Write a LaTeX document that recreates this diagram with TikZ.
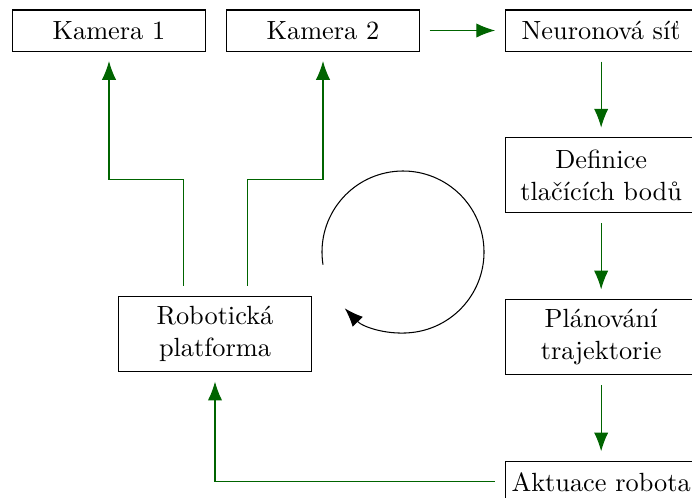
\documentclass[tikz,border=0pt]{standalone}
\usepackage{fontspec}
\usetikzlibrary{arrows.meta,positioning}
\definecolor{flowgreen}{RGB}{0,100,0}
\tikzset{
	box/.style={draw, align=center, minimum height=15.6pt, minimum width=73pt, inner sep=2pt},
	tallbox/.style={box, minimum height=28.6pt},
	flow/.style={-{Latex[length=2.5mm,width=1.9mm]}, flowgreen, shorten <=3.8pt, shorten >=3.6pt},
	cycle/.style={-{Latex[length=2.5mm,width=1.9mm]}, black}
}

\begin{document}
\begin{tikzpicture}[x=0.38pt, y=-0.38pt, node distance=32.5pt]
	\useasboundingbox (0,0) rectangle (692,497);
	\node[box] (cam1) at (109,30.5) {Kamera 1};
	\node[box] (cam2) at (323,30.5) {Kamera 2};
	\node[box, right=32.3pt of cam2] (net) {Neuronová síť};
	\node[tallbox, below=of net] (points) {Definice\\tlačících bodů};
	\node[tallbox, below=of points] (plan) {Plánování\\trajektorie};
	\node[box, below=of plan] (act) {Aktuace robota};
	\node[tallbox] (robot) at (215,334) {Robotická\\platforma};

	\draw[flow] (cam2) -- (net);
	\draw[flow] (net) -- (points);
	\draw[flow] (points) -- (plan);
	\draw[flow] (plan) -- (act);
	\draw[flow] (act.west) -| (robot.south);
	\draw[flow] ([xshift=-11.8pt]robot.north) -- ++(0,-116) -| (cam1.south);
	\draw[flow] ([xshift=12.2pt]robot.north) -- ++(0,-116) -| (cam2.south);

	% feedback loop symbol
	\coordinate (loop) at (403,252);
	\draw[cycle] (loop) ++(171:81) arc[start angle=171, end angle=496, radius=81];
\end{tikzpicture}
\end{document}
